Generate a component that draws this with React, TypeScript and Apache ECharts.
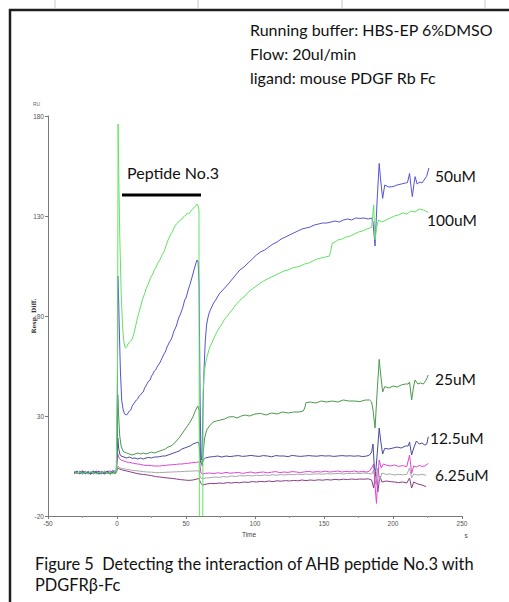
import React, { useEffect, useRef } from "react";
import * as echarts from "echarts";

// Time axis (s) and response axis (RU) ranges / ticks
const xTickValues = [-50, 0, 50, 100, 150, 200, 250];
const yTickValues = [-20, 30, 80, 130, 180];

const seriesNames = ["100uM", "50uM", "25uM", "12.5uM", "6.25uM", "low-a", "low-b"];

// [time, response] pairs
const resp100: [number, number][] = [
  [-31, 2.5], [-29, 1.5], [-27, 2], [-25, 1], [-23, 1.8], [-21, 1.2], [-19, 2.2], [-17, 1.5], [-15, 1], [-13, 2], [-11, 1.4], [-9, 2.6], [-7, 1.2], [-5, 1.8], [-3, 1], [-1.5, 2.4], [-0.5, 1.5],
  [0.4, 60], [0.8, 176], [1.3, 150], [2, 120], [3, 92], [4, 75], [5, 67], [6, 64], [7, 64.5], [8, 66], [9, 67], [10, 67.5], [11, 68.5], [12, 70.5], [13, 73.5], [14, 76.5], [15, 79.5], [16, 82], [17, 84.5], [18, 87], [19, 89.5], [20, 91], [21, 93.5], [22, 95], [23, 96.5], [24, 98.5], [25, 100], [26, 101], [27, 103], [28, 104], [29, 105.5], [30, 107], [31, 108], [32, 109.5], [33, 111], [34, 112], [35, 114], [36, 116], [37, 118], [38, 119.5], [39, 121], [40, 122], [41, 123.5], [42, 125], [43, 126], [44, 126.5], [45, 127.5], [46, 128], [47, 128.5], [48, 129.5], [49, 130], [50, 130.5], [51, 131.5], [52, 131], [53, 132], [54, 133], [55, 133.5], [56, 134.5], [57, 135], [58, 136], [58.8, 135], [59.4, 133],
  [59.7, -40], [62.1, -40], [62.4, 42], [63, 50], [64, 55.5], [65, 59], [66, 61.5], [67, 64], [68, 65.5], [70, 68.5], [72, 71.5], [74, 74], [76, 76], [78, 78.5], [80, 80], [82, 82], [84, 83.5], [86, 85.5], [88, 87], [90, 88.5], [92, 89.5], [94, 91], [96, 92.5], [98, 93.5], [100, 94.5], [103, 96], [106, 97.5], [109, 98.5], [112, 99.5], [115, 100.5], [118, 101.5], [121, 102.5], [124, 103], [127, 104], [130, 104.5], [133, 105], [136, 106], [139, 106.5], [142, 107.5], [145, 108.5], [148, 109], [151, 109.5], [154, 110], [155, 113], [156, 116.5], [158, 117], [160, 118], [163, 118.5], [166, 119.5], [169, 120], [172, 121], [175, 122], [178, 122.5], [181, 123.5], [184.5, 124.3],
  [186, 135.5], [187, 118], [188, 124], [189.5, 128], [192, 127], [195, 128], [198, 129], [201, 130], [204, 130.5], [207, 131.5], [210, 131], [213, 132.5], [216, 132], [219, 133.5], [222, 133], [225.6, 131.7],
];

const resp50: [number, number][] = [
  [-31, 1.5], [-29, 2.5], [-27, 1.2], [-25, 2], [-23, 1], [-21, 2.3], [-19, 1.4], [-17, 1.8], [-15, 2.5], [-13, 1.2], [-11, 2], [-9, 1], [-7, 2.2], [-5, 1.5], [-3, 2.8], [-1.5, 1.8], [-0.5, 2],
  [0.3, 40], [0.6, 100], [1.2, 88], [1.8, 70], [2.5, 52], [3.4, 38], [4.5, 33], [5.5, 31], [7, 30.5], [8, 31.5], [9, 32.5], [10, 33], [11, 35], [12, 36], [13, 37], [14, 38], [15, 38.5], [16, 40], [17, 40.5], [18, 41.5], [19, 42], [20, 44], [21, 45], [22, 46.5], [23, 47.5], [24, 48], [25, 50], [26, 51], [27, 52.5], [28, 53], [29, 54.5], [30, 55.5], [31, 56.5], [32, 58], [33, 59.5], [34, 61], [35, 62], [36, 64], [37, 65.5], [38, 67], [39, 68], [40, 69.5], [41, 72], [42, 73.5], [43, 75], [44, 77.5], [45, 79.5], [46, 81], [47, 83], [48, 85], [49, 88], [50, 89], [51, 91.5], [52, 94], [53, 96], [54, 98.5], [55, 101], [56, 103.5], [57, 106], [58, 108], [58.8, 107],
  [59.5, 95], [60.2, 40], [60.8, 10], [61.5, 8], [62.2, 30], [63, 52], [64, 68], [65, 76], [66, 79.5], [67, 82], [68, 83.5], [70, 86.5], [72, 88.5], [74, 91], [76, 92.5], [78, 94], [80, 95.5], [83, 98], [86, 100.5], [89, 103], [92, 104.5], [95, 106.5], [98, 108.5], [101, 110.5], [104, 112], [107, 113], [110, 114.5], [113, 116], [116, 117], [119, 118.5], [122, 119.5], [125, 120.5], [128, 121.5], [131, 122.5], [134, 123.5], [137, 124], [140, 124.5], [143, 125.5], [146, 126], [149, 126.5], [152, 126.5], [155, 127], [158, 127.5], [161, 127], [164, 128], [167, 128.5], [170, 128], [173, 129], [176, 128.8], [179, 129], [182, 128.5], [184.5, 129],
  [185.5, 127], [187, 115], [188.5, 138], [190, 156.3], [191.2, 147], [192.5, 138.8], [194, 145.5], [197, 144.5], [200, 144.7], [203, 145.5], [206, 146], [209, 146.5], [210.5, 146.7], [212, 151.3], [213, 145], [214, 139.7], [215, 145], [216, 149.7], [217.5, 146], [219.5, 147], [221, 146.5], [222.5, 148], [224.3, 149.7], [226, 154],
];

const resp25: [number, number][] = [
  [-31, 2], [-29, 1.2], [-27, 2.4], [-25, 1.5], [-23, 2.2], [-21, 1], [-19, 1.8], [-17, 2.5], [-15, 1.3], [-13, 1.8], [-11, 1], [-9, 2], [-7, 1.5], [-5, 1.2], [-3, 2.2], [-1.5, 1.4], [-0.5, 2],
  [0.3, 20], [0.6, 40.5], [1.2, 30], [2, 20], [3, 15], [4, 13], [5, 12], [7, 11.5], [9, 11], [11, 10.5], [13, 11], [15, 11.5], [17, 11], [19, 11.5], [21, 11], [23, 11.5], [25, 12], [27, 11.5], [29, 12], [31, 12.5], [33, 13], [35, 13.5], [37, 14.5], [39, 15], [41, 16], [43, 17.5], [45, 19], [47, 21], [49, 23], [51, 25], [53, 27], [55, 29.5], [57, 33], [58.5, 35],
  [59.5, 33], [60.2, 15], [61, 6.5], [61.8, 5], [62.5, 12], [63.5, 19], [65, 23], [67, 25], [69.7, 27], [72, 27.5], [75, 28], [78, 28.5], [81, 29.5], [84, 29.7], [87, 29], [90, 30], [93, 30.5], [96, 30], [100, 31], [104, 31.3], [108, 30.5], [112, 31.5], [116, 31], [120, 32], [124, 31.5], [128, 32], [132, 32], [135, 32.5], [136, 34], [137, 36.7], [140, 37], [144, 36.5], [148, 37.5], [152, 37], [156, 37.5], [160, 37], [164, 38], [168, 37.5], [172, 37.5], [176, 37.2], [180, 38], [183, 38], [184.5, 37],
  [185.5, 33], [187, 24], [188.5, 42], [190, 58.3], [191.2, 50], [192.5, 42], [194, 44.7], [197, 44], [200, 45], [203, 44.5], [206, 45.5], [209, 46], [211, 46], [212, 47], [213.5, 38], [215, 45], [216, 48], [218, 46], [220, 46.5], [222, 46], [224, 48], [225.6, 50.5],
];

const resp12_5: [number, number][] = [
  [-31, 1.8], [-29, 2.2], [-27, 1], [-25, 2.4], [-23, 1.5], [-21, 1.8], [-19, 1], [-17, 2.2], [-15, 1.6], [-13, 2.4], [-11, 1.2], [-9, 1.7], [-7, 2.5], [-5, 1], [-3, 1.8], [-1.5, 2.6], [-0.5, 2],
  [0.6, 19], [1.2, 14], [2, 11], [3, 10], [5, 9.5], [7, 9], [9, 9.5], [11, 8.8], [13, 9], [15, 8.5], [17, 9], [19, 8.5], [21, 9], [23, 9.3], [25, 9], [27, 9.5], [29, 9.5], [31, 9.7], [33, 10], [35, 10], [37, 10.5], [39, 11], [41, 11.5], [43, 12], [45, 12.5], [47, 13.5], [49, 14], [51, 14.5], [53, 15], [55, 16], [57, 16.5], [58.5, 17],
  [59.5, 16], [60.5, 7], [61.5, 6], [62.5, 8], [64, 9], [67, 9.5], [70, 9.7], [73, 10], [76, 9.5], [79, 10], [82, 9.7], [85, 10], [88, 10.2], [91, 9.8], [94, 10], [97, 10.3], [100, 10], [103, 9.8], [106, 10.2], [109, 10], [112, 9.6], [115, 10.2], [118, 10], [121, 10], [124, 9.7], [127, 10.3], [130, 10], [133, 9.8], [136, 10], [139, 10.2], [142, 10], [145, 9.9], [148, 10.2], [151, 10], [154, 10.1], [157, 9.8], [160, 10], [163, 10.2], [166, 10], [169, 10.1], [172, 9.9], [175, 10.1], [178, 9.7], [181, 10], [183, 10.5],
  [184.5, 12], [185.5, 16], [186.5, 4], [187.5, 2.2], [189, 15], [190, 24], [191.2, 17], [192.5, 11], [194, 13.8], [197, 13.5], [200, 14], [203, 14.5], [206, 14], [209, 15], [211, 15], [212, 17], [213.5, 10.5], [215, 14], [217, 17.5], [219, 16], [221, 16.5], [223, 15.5], [224.5, 16], [225.6, 19.7],
];

const resp6_25: [number, number][] = [
  [-31, 2.2], [-29, 1.4], [-27, 2], [-25, 2.6], [-23, 1.2], [-21, 2], [-19, 1.6], [-17, 1], [-15, 2.2], [-13, 1.5], [-11, 2.4], [-9, 1.3], [-7, 2], [-5, 2.6], [-3, 1.5], [-1.5, 2], [-0.5, 2.5],
  [0.6, 11], [1.5, 9], [3, 8], [5, 7.5], [7, 7], [9, 6.8], [11, 6.5], [13, 6.2], [15, 6], [17, 5.8], [19, 5.5], [21, 5.3], [23, 5.3], [25, 5.2], [27, 5], [29, 5], [31, 5], [33, 5.2], [35, 5.3], [37, 5.5], [39, 5.6], [41, 5.7], [43, 5.8], [45, 6], [47, 6], [49, 6.2], [51, 6.3], [53, 6.5], [55, 6.7], [57, 6.8], [59, 7],
  [60, 6.5], [60.8, 1.5], [62, 1], [64, 1.3], [67, 1.5], [70, 1.2], [73, 1.6], [76, 1.3], [79, 1.8], [82, 1.4], [85, 1.6], [88, 1.8], [91, 1.3], [94, 1.7], [97, 2], [100, 1.5], [103, 1.8], [106, 2], [109, 1.6], [112, 1.9], [115, 2.2], [118, 1.7], [121, 2], [124, 1.8], [127, 2.2], [130, 2], [133, 1.7], [136, 2.1], [139, 2.3], [142, 1.9], [145, 2.2], [148, 2], [151, 2.4], [154, 2], [157, 2.2], [160, 2.5], [163, 2], [166, 2.3], [169, 2.1], [172, 2.5], [175, 2], [178, 2.3], [181, 2], [183, 2.5],
  [184.5, 4], [186, 6], [187, -5], [188, -13.7], [189, -2], [190, 8], [191.5, 4], [193, 6], [195, 5.5], [198, 5], [201, 5.5], [204, 4.8], [207, 5.2], [210, 4.7], [212, 10.5], [213.5, 1.3], [215, 5], [217, 4.5], [219, 5.3], [221, 4.8], [223, 5], [225.6, 6.3],
];

const respLowA: [number, number][] = [
  [-31, 1.6], [-29, 2.3], [-27, 1.4], [-25, 1.9], [-23, 2.4], [-21, 1.5], [-19, 2], [-17, 1.2], [-15, 1.8], [-13, 2.5], [-11, 1.5], [-9, 2.2], [-7, 1.3], [-5, 2.1], [-3, 1.6], [-1.5, 2.3], [-0.5, 1.8],
  [0.6, 5], [2, 4], [4, 3.8], [7, 3.3], [10, 3], [13, 2.7], [16, 2.5], [19, 2.2], [22, 2], [25, 1.9], [28, 1.7], [31, 1.7], [34, 1.8], [37, 1.9], [40, 2], [43, 2.1], [46, 2.2], [49, 2.3], [52, 2.4], [55, 2.5], [58, 2.6], [59.5, 2.5],
  [60.5, -1], [62, -1.2], [65, -1], [68, -0.8], [71, -0.5], [74, -0.7], [77, -0.3], [80, -0.5], [83, 0], [86, -0.3], [89, 0.2], [92, 0], [95, 0.3], [98, 0], [101, 0.4], [104, 0.2], [107, 0.5], [110, 0.3], [113, 0.6], [116, 0.4], [119, 0.7], [122, 0.5], [125, 0.8], [128, 0.6], [131, 0.9], [134, 0.7], [137, 1], [140, 0.8], [143, 1], [146, 1.1], [149, 0.9], [152, 1.2], [155, 1], [158, 1.2], [161, 1.3], [164, 1], [167, 1.3], [170, 1.2], [173, 1.4], [176, 1.2], [179, 1.5], [182, 1.3], [184.5, 1],
  [186, 3], [187.5, -4], [189, 4], [190.5, -2], [192, 1.5], [195, 0.8], [198, 1], [201, 0.5], [204, 0.8], [207, 0.6], [210, 0.8], [212, 4], [213.5, -1], [215, 1], [218, 0.5], [221, 0.8], [224, 0.4],
];

const respLowB: [number, number][] = [
  [-31, 1.2], [-29, 2], [-27, 1.6], [-25, 1], [-23, 2], [-21, 1.4], [-19, 1], [-17, 2], [-15, 1.5], [-13, 1], [-11, 1.8], [-9, 1.2], [-7, 1.7], [-5, 1], [-3, 2], [-1.5, 1.2], [-0.5, 1.6],
  [0.6, 4], [2, 3.5], [4, 3], [7, 2.5], [10, 2], [13, 1.5], [16, 1], [19, 0.8], [22, 0.5], [25, 0.2], [28, -0.3], [31, -0.5], [34, -0.8], [37, -1], [40, -1.2], [43, -1.5], [46, -1.8], [49, -2], [52, -2.2], [55, -2], [58, -1.5], [59.5, -1.2],
  [60.5, -3.5], [62, -4.5], [65, -4], [68, -3.7], [71, -3.8], [74, -3.5], [77, -3.7], [80, -3.3], [83, -3.5], [86, -3.2], [89, -3.4], [92, -3], [95, -3.2], [98, -2.8], [101, -3], [104, -2.7], [107, -2.9], [110, -2.5], [113, -2.8], [116, -2.4], [119, -2.6], [122, -2.3], [125, -2.5], [128, -2.2], [131, -2.4], [134, -2], [137, -2.3], [140, -2], [143, -2.2], [146, -1.9], [149, -2.1], [152, -1.8], [155, -2], [158, -1.7], [161, -1.9], [164, -1.6], [167, -1.8], [170, -1.5], [173, -1.7], [176, -1.5], [179, -1.6], [182, -1.4], [184.5, -2],
  [186, -6], [187.5, 2], [189, -8], [190.5, 0], [192, -3], [195, -2.5], [198, -2.8], [201, -3], [204, -3.3], [207, -3], [210, -3.5], [212, -1], [213.5, -6], [215, -3], [218, -4], [221, -4.5], [224, -5.3],
];

const seriesColors = ["#62e462", "#5454d6", "#4c984c", "#4a4a9c", "#e044d8", "#a8a8a8", "#8a3c86"];
const seriesData = [resp100, resp50, resp25, resp12_5, resp6_25, respLowA, respLowB];

const infoLines = ["Running buffer: HBS-EP 6%DMSO", "Flow: 20ul/min", "ligand: mouse PDGF Rb Fc"];
const concLabels = ["50uM", "100uM", "25uM", "12.5uM", "6.25uM"];
const captionLines = ["Figure 5  Detecting the interaction of AHB peptide No.3 with", "PDGFR\u03b2-Fc"];

const TEXT_FONT = "Lato, 'Open Sans', sans-serif";
const AXIS_FONT = "'Liberation Sans Narrow', 'Liberation Sans', Arial, sans-serif";

export default function App() {
  const ref = useRef<HTMLDivElement>(null);

  useEffect(() => {
    if (!ref.current) return;
    const chart = echarts.init(ref.current, undefined, { renderer: "svg" });

    const infoY = [29, 53, 77];
    const concPos: [number, number][] = [
      [435, 175.5],
      [427, 219.5],
      [435, 379],
      [430, 438],
      [435, 474.5],
    ];

    const graphic: any[] = [
      { type: "line", shape: { x1: 9, y1: 10, x2: 509, y2: 10 }, style: { stroke: "#1e1e1e", lineWidth: 2.5 } },
      { type: "line", shape: { x1: 10, y1: 9, x2: 10, y2: 602 }, style: { stroke: "#1e1e1e", lineWidth: 2.5 } },
      ...[55, 198, 342, 485].map((x) => ({
        type: "line",
        shape: { x1: x, y1: 0, x2: x, y2: 9 },
        style: { stroke: "#c8c8c8", lineWidth: 1 },
      })),
      ...infoLines.map((t, i) => ({
        type: "text",
        x: 250,
        y: infoY[i],
        style: { text: t, font: `16px ${TEXT_FONT}`, fill: "#111", verticalAlign: "middle", align: "left" },
      })),
      {
        type: "text",
        x: 127,
        y: 172,
        style: { text: "Peptide No.3", font: `16px ${TEXT_FONT}`, fill: "#111", verticalAlign: "middle", align: "left" },
      },
      { type: "line", shape: { x1: 122, y1: 195, x2: 201, y2: 195 }, style: { stroke: "#000", lineWidth: 3 } },
      ...concLabels.map((t, i) => ({
        type: "text",
        x: concPos[i][0],
        y: concPos[i][1],
        style: { text: t, font: `15.5px ${TEXT_FONT}`, fill: "#111", verticalAlign: "middle", align: "left" },
      })),
      ...captionLines.map((t, i) => ({
        type: "text",
        x: 35,
        y: i === 0 ? 563 : 584.5,
        style: { text: t, font: `16.4px ${TEXT_FONT}`, fill: "#111", verticalAlign: "middle", align: "left" },
      })),
      {
        type: "text",
        x: 33,
        y: 104,
        style: { text: "RU", font: `5px ${AXIS_FONT}`, fill: "#666", verticalAlign: "middle", align: "left" },
      },
      {
        type: "text",
        x: 33,
        y: 316,
        rotation: Math.PI / 2,
        style: {
          text: "Resp. Diff.",
          font: `bold 6px 'DejaVu Serif', serif`,
          fill: "#333",
          verticalAlign: "middle",
          align: "center",
        },
      },
      {
        type: "text",
        x: 249,
        y: 534,
        style: { text: "Time", font: `6.5px ${AXIS_FONT}`, fill: "#444", verticalAlign: "middle", align: "center" },
      },
      {
        type: "text",
        x: 466,
        y: 535,
        style: { text: "s", font: `6.5px ${AXIS_FONT}`, fill: "#444", verticalAlign: "middle", align: "center" },
      },
    ];

    chart.setOption({
      animation: false,
      backgroundColor: "#ffffff",
      grid: { left: 48, top: 116, width: 414, height: 400, containLabel: false },
      xAxis: {
        type: "value",
        min: xTickValues[0],
        max: xTickValues[xTickValues.length - 1],
        interval: 50,
        axisLine: { show: true, onZero: false, lineStyle: { color: "#7a7a7a", width: 1 } },
        axisTick: { show: true, length: 3, lineStyle: { color: "#7a7a7a" } },
        minorTick: { show: true, splitNumber: 2, length: 2, lineStyle: { color: "#9a9a9a" } },
        splitLine: { show: false },
        axisLabel: { fontSize: 6.5, color: "#555", margin: 4, fontFamily: AXIS_FONT },
      },
      yAxis: {
        type: "value",
        min: yTickValues[0],
        max: yTickValues[yTickValues.length - 1],
        interval: 50,
        axisLine: { show: true, onZero: false, lineStyle: { color: "#7a7a7a", width: 1 } },
        axisTick: { show: true, length: 3, lineStyle: { color: "#7a7a7a" } },
        splitLine: { show: false },
        axisLabel: { fontSize: 6.5, color: "#555", margin: 4, fontFamily: AXIS_FONT },
      },
      series: seriesData.map((d, i) => ({
        name: seriesNames[i],
        type: "line",
        data: d,
        showSymbol: false,
        symbol: "none",
        clip: true,
        z: 10 - i,
        lineStyle: { color: seriesColors[i], width: 1 },
        itemStyle: { color: seriesColors[i] },
      })),
      graphic,
    });

    return () => chart.dispose();
  }, []);

  return (
    <div
      ref={ref}
      style={{ position: "fixed", left: 0, top: 0, width: 509, height: 602, background: "#fff" }}
    />
  );
}
